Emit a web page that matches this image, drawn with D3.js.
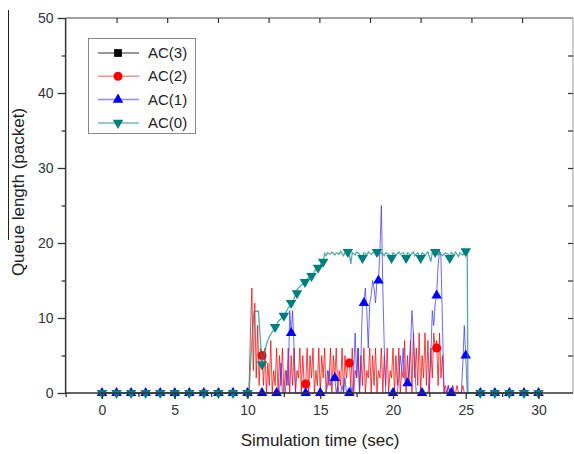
<!DOCTYPE html>
<html>
<head>
<meta charset="utf-8">
<script src="https://cdn.jsdelivr.net/npm/d3@7"></script>
<style>
  body { margin: 0; background: #fff; }
  text { font-family: "Liberation Sans", Arial, sans-serif; }
</style>
</head>
<body>
<div id="chart"></div>
<script>
// Series names, legend order
const seriesNames = ["AC(3)", "AC(2)", "AC(1)", "AC(0)"];

// Tick values
const xTicks = [0, 5, 10, 15, 20, 25, 30];
const xMinorTicks = [-2.5, 2.5, 7.5, 12.5, 17.5, 22.5, 27.5];
const topTicks = [1, 4.48, 7.97, 11.45, 14.94, 18.42, 21.9, 25.39, 28.87];
const yTicks = [0, 10, 20, 30, 40, 50];
const yMinorTicks = [5, 15, 25, 35, 45];
const rightTicks = [5, 10, 15, 20, 25, 30, 35, 40, 45];

// AC(2): sampled every 0.1 s from 10.0 s to 25.0 s
const redStart = 10, redStep = 0.1;
const redValues = [
  0,0,8,14,3,12,2,9,1,6,
  5,1,6,0,4,1,7,0,3,1,
  6,0,5,1,6,0,3,1,6,0,
  5,1,6,0,3,2,6,0,5,1,
  1,6,0,5,2,6,0,3,1,6,
  0,5,2,6,0,3,1,6,0,5,
  2,6,0,3,1,6,0,5,2,4,
  4,1,6,0,3,2,6,0,5,1,
  6,0,3,2,6,0,5,1,6,0,
  3,2,6,0,5,1,6,0,3,2,
  6,0,5,1,6,0,3,2,7,0,
  5,1,7,0,8,2,6,1,8,0,
  5,2,8,1,7,0,6,2,8,6,
  7,1,8,2,5,0,1,0,1,0,
  0,1,0,0,1,0,0,0,1,0,
  0
];
const redMarkers = [[11, 5], [14, 1.2], [17, 4], [23, 6]];

// AC(1): sampled every 0.1 s from 10.0 s to 25.5 s
const blueStart = 10, blueStep = 0.1;
const blueValues = [
  0,0,0,0,0,0,0,0,0,0,
  0,0,0,0,0,0,0,0,0,0,
  0,0,0,4,0,0,0,3,1,11,
  8,11,6,0,0,0,0,0,0,0,
  0,0,0,0,0,0,0,0,0,0,
  0,0,0,0,0,1,3,1,2,2,
  2,0,1,0,0,1,0,2,0,0,
  0,1,0,3,8,2,6,0,5,12,
  12,14,11,6,12,13,15,14,12,15,
  15,19,25,14,6,0,0,0,0,0,
  0,0,0,0,2,5,3,6,2,1,
  1.3,3,6,11,8,3,0,0,0,0,
  0,0,0,0,0,2,5,11,9,12,
  13,17,19,18,9,1,0,0,1,0,
  0,1,0,0,0,0,0,0,4,9,
  5,0,0,0,0,0
];
const blueMarkers = [
  [0,0],[1,0],[2,0],[3,0],[4,0],[5,0],[6,0],[7,0],[8,0],[9,0],[10,0],[11,0],[12,0],
  [13,8],[14,0],[15,0],[16,2],[17,0],[18,12],[19,15],[20,0],[21,1.3],[22,0],[23,13],
  [24,0],[25,5],[26,0],[27,0],[28,0],[29,0],[30,0]
];

// AC(0): [time, queue length]
const tealPoints = [
  [0,0],[10.1,0],[10.3,7],[10.45,10.9],[10.75,10.9],[11.0,3.8],[11.3,6.5],[11.5,7.5],
  [11.9,8.8],[12.1,9.5],[12.5,10.3],[12.7,11],[13.0,12],[13.2,12.6],[13.4,13.8],[13.6,14.2],
  [13.95,14.8],[14.1,15.2],[14.4,15.6],[14.6,16.2],[14.85,16.7],[15.0,17.0],[15.2,17.5],
  [15.3,18.6],[15.4,18.3],[15.5,18.7],[15.7,18.5],[15.8,18.8],[16.0,18.4],[16.1,18.7],
  [16.3,18.5],[16.4,18.9],[16.6,18.3],[16.7,18.7],[16.9,18.8],[17.0,18.5],[17.1,17.2],
  [17.2,18.7],[17.4,18.4],[17.5,18.8],[17.7,18.5],[17.9,18.0],[18.0,18.7],[18.2,18.4],
  [18.3,18.8],[18.5,18.5],[18.7,18.8],[18.9,18.8],[19.0,18.4],[19.2,18.7],[19.4,18.3],
  [19.5,18.7],[19.7,18.5],[19.9,18.0],[20.0,18.7],[20.2,18.4],[20.4,18.8],[20.5,18.5],
  [20.7,18.7],[20.9,18.0],[21.0,18.7],[21.2,18.4],[21.4,18.8],[21.5,18.3],[21.7,18.7],
  [21.9,18.0],[22.0,18.7],[22.2,18.4],[22.4,18.8],[22.6,17.5],[22.7,18.7],[22.9,18.8],
  [23.1,18.4],[23.2,18.8],[23.4,18.3],[23.6,18.7],[23.8,18.5],[23.9,18.0],[24.0,18.7],
  [24.2,18.4],[24.3,18.8],[24.5,18.2],[24.6,18.7],[24.8,18.4],[25.0,18.9],[25.1,18.9],
  [25.15,0],[30,0]
];
const tealMarkers = [
  [0,0],[1,0],[2,0],[3,0],[4,0],[5,0],[6,0],[7,0],[8,0],[9,0],[10,0],
  [11,3.8],[11.9,8.8],[12.5,10.3],[13.0,12],[13.4,13.3],[13.95,14.8],[14.4,15.6],
  [14.85,16.7],[15.2,17.5],[16.9,18.8],[17.9,18.0],[18.9,18.8],[19.9,18.0],[20.9,18.0],
  [21.9,18.0],[22.9,18.8],[23.9,18.0],[25.0,18.9],
  [26,0],[27,0],[28,0],[29,0],[30,0]
];

// AC(3): stays at zero
const blackPoints = [[0,0],[30,0]];

const W = 574, H = 454;
const svg = d3.select("#chart").append("svg")
    .attr("width", W)
    .attr("height", H);

const x = d3.scaleLinear().domain([0, 30]).range([102, 538.5]);
const y = d3.scaleLinear().domain([0, 50]).range([393, 18]);
const plotLeft = x(-2.5), plotRight = 573, plotTop = y(50), plotBottom = y(0);

// sampled series -> points
const toPoints = (start, step, vals) => vals.map((v, i) => [start + i * step, v]);
const redPoints = [[0,0]].concat(toPoints(redStart, redStep, redValues), [[30,0]]);
const bluePoints = [[0,0]].concat(toPoints(blueStart, blueStep, blueValues), [[30,0]]);

const styles = {
  "AC(3)": {line: "#555", width: 1, fill: "#000", symbol: d3.symbolSquare, size: 60, rotate: 0},
  "AC(2)": {line: "#ff0000", width: 1, fill: "#ff0000", symbol: d3.symbolCircle, size: 64, rotate: 0},
  "AC(1)": {line: "#3a3aff", width: 1, fill: "#0000ff", symbol: d3.symbolTriangle, size: 48, rotate: 0},
  "AC(0)": {line: "#168f89", width: 1.3, fill: "#007f7f", symbol: d3.symbolTriangle, size: 48, rotate: 180}
};
const legendLine = {"AC(3)": "#777", "AC(2)": "#ff8c8c", "AC(1)": "#8c8cff", "AC(0)": "#6fbab6"};

// Frame
svg.append("line").attr("x1", plotLeft).attr("x2", plotRight).attr("y1", plotTop).attr("y2", plotTop)
    .attr("stroke", "#444").attr("stroke-width", 1.2);
svg.append("line").attr("x1", plotRight).attr("x2", plotRight).attr("y1", plotTop).attr("y2", plotBottom)
    .attr("stroke", "#999").attr("stroke-width", 1);

// Top & right inner ticks
svg.append("g")
    .attr("transform", `translate(0,${plotTop})`)
    .call(d3.axisBottom(x).tickValues(topTicks).tickSize(5).tickFormat(""))
    .call(g => g.select(".domain").remove())
    .call(g => g.selectAll("line").attr("stroke", "#333").attr("stroke-width", 1.2));
svg.append("g")
    .attr("transform", `translate(${plotRight},0)`)
    .call(d3.axisRight(y).tickValues(rightTicks).tickSize(-5).tickFormat(""))
    .call(g => g.select(".domain").remove())
    .call(g => g.selectAll("line").attr("stroke", "#333").attr("stroke-width", 1.2));

const lineGen = d3.line().x(d => x(d[0])).y(d => y(d[1]));

function drawSeries(name, pts, markers) {
  const s = styles[name];
  svg.append("path")
      .datum(pts)
      .attr("fill", "none")
      .attr("stroke", s.line)
      .attr("stroke-width", s.width)
      .attr("stroke-opacity", 0.75)
      .attr("d", lineGen);
  svg.append("g")
    .selectAll("path")
    .data(markers)
    .join("path")
      .attr("transform", d => `translate(${x(d[0])},${y(d[1])}) rotate(${s.rotate})`)
      .attr("d", d3.symbol().type(s.symbol).size(s.size))
      .attr("fill", s.fill);
}

drawSeries("AC(3)", blackPoints, []);
drawSeries("AC(2)", redPoints, redMarkers);
drawSeries("AC(1)", bluePoints, blueMarkers);
drawSeries("AC(0)", tealPoints, tealMarkers);

// Bottom axis
const xAxis = svg.append("g")
    .attr("transform", `translate(0,${plotBottom})`)
    .call(d3.axisBottom(x).tickValues(xTicks).tickSize(6).tickPadding(6));
xAxis.select(".domain").attr("d", `M${plotLeft},0H${plotRight}`).attr("stroke", "#333").attr("stroke-width", 1.5);
xAxis.selectAll("line").attr("stroke", "#333").attr("stroke-width", 1.3);
xAxis.selectAll("text").attr("font-size", 14).attr("fill", "#333")
    .attr("font-family", "Liberation Sans, Arial, sans-serif");
svg.append("g")
    .attr("transform", `translate(0,${plotBottom})`)
    .call(d3.axisBottom(x).tickValues(xMinorTicks).tickSize(4).tickFormat(""))
    .call(g => g.select(".domain").remove())
    .call(g => g.selectAll("line").attr("stroke", "#333").attr("stroke-width", 1.3));

// Left axis
const yAxis = svg.append("g")
    .attr("transform", `translate(${plotLeft},0)`)
    .call(d3.axisLeft(y).tickValues(yTicks).tickSize(8).tickPadding(4));
yAxis.select(".domain").attr("d", `M0,${plotTop}V${plotBottom}`).attr("stroke", "#333").attr("stroke-width", 1.5);
yAxis.selectAll("line").attr("stroke", "#333").attr("stroke-width", 1.3);
yAxis.selectAll("text").attr("font-size", 14).attr("fill", "#333")
    .attr("font-family", "Liberation Sans, Arial, sans-serif");
svg.append("g")
    .attr("transform", `translate(${plotLeft},0)`)
    .call(d3.axisLeft(y).tickValues(yMinorTicks).tickSize(4).tickFormat(""))
    .call(g => g.select(".domain").remove())
    .call(g => g.selectAll("line").attr("stroke", "#333").attr("stroke-width", 1.3));

// Axis titles
svg.append("text")
    .attr("x", 320)
    .attr("y", 446)
    .attr("text-anchor", "middle")
    .attr("font-size", 17)
    .attr("fill", "#222")
    .text("Simulation time (sec)");

svg.append("text")
    .attr("transform", "translate(24,192) rotate(-90)")
    .attr("text-anchor", "middle")
    .attr("font-size", 17)
    .attr("fill", "#222")
    .text("Queue length (packet)");
svg.append("line")
    .attr("x1", 8.5).attr("x2", 8.5).attr("y1", 10).attr("y2", 240)
    .attr("stroke", "#222").attr("stroke-width", 1);

// Legend
const legend = svg.append("g");
legend.append("rect")
    .attr("x", 88.5).attr("y", 38.5).attr("width", 107).attr("height", 95)
    .attr("fill", "#fff").attr("stroke", "#888").attr("stroke-width", 1);
seriesNames.forEach((name, i) => {
  const s = styles[name];
  const ly = 53 + i * 23.3;
  legend.append("line")
      .attr("x1", 98).attr("x2", 139).attr("y1", ly).attr("y2", ly)
      .attr("stroke", legendLine[name]).attr("stroke-width", 1.5);
  legend.append("path")
      .attr("transform", `translate(118,${ly}) rotate(${s.rotate})`)
      .attr("d", d3.symbol().type(s.symbol).size(s.size))
      .attr("fill", s.fill);
  legend.append("text")
      .attr("x", 148).attr("y", ly + 5)
      .attr("font-size", 15)
      .attr("font-family", "Open Sans, sans-serif")
      .attr("fill", "#222")
      .text(name);
});
</script>
</body>
</html>
